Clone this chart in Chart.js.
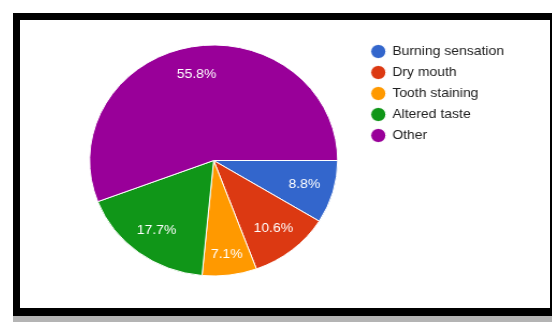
<!DOCTYPE html>
<html>
<head>
<meta charset="utf-8">
<script src="https://cdn.jsdelivr.net/npm/chart.js@4.4.1/dist/chart.umd.min.js"></script>
<style>
  html, body { margin: 0; padding: 0; background: #fff; overflow: hidden; }
  body { width: 552px; height: 322px; position: relative; }
  .frame { position: absolute; left: 13px; top: 13px; width: 539px; height: 303px; background: #000; }
  .shadow { position: absolute; left: 13px; top: 316px; width: 539px; height: 6px; background: #b4b4b4; }
  .paper { position: absolute; left: 20px; top: 20px; width: 530px; height: 288px; background: #fff; }
  .chart-box { position: absolute; left: 20px; top: 20px; width: 493px; height: 288px;
    transform: scaleX(1.074); transform-origin: 0 0; }
</style>
</head>
<body>
<div class="frame"></div>
<div class="shadow"></div>
<div class="paper"></div>
<div class="chart-box"><canvas id="pie"></canvas></div>
<script>
const categories = ["Burning sensation", "Dry mouth", "Tooth staining", "Altered taste", "Other"];
const percents = [8.8, 10.6, 7.1, 17.7, 55.8];
const colors = ["#3366cc", "#dc3912", "#ff9900", "#109618", "#990099"];

// percentage text inside each slice
const sliceLabels = {
  id: "sliceLabels",
  afterDatasetsDraw(chart) {
    const ctx = chart.ctx;
    const meta = chart.getDatasetMeta(0);
    ctx.save();
    ctx.font = "13px Arial, 'Liberation Sans', sans-serif";
    ctx.fillStyle = "#ffffff";
    ctx.textAlign = "center";
    ctx.textBaseline = "middle";
    meta.data.forEach((arc, i) => {
      const p = arc.getProps(["x", "y", "startAngle", "endAngle", "outerRadius"]);
      const mid = (p.startAngle + p.endAngle) / 2;
      // narrow slices near the bottom push the text a bit outward
      const r = p.outerRadius * (0.76 + 0.06 * Math.max(0, Math.sin(mid)) * (percents[i] < 8 ? 1 : 0));
      ctx.fillText(percents[i].toFixed(1) + "%", p.x + Math.cos(mid) * r, p.y + Math.sin(mid) * r);
    });
    ctx.restore();
  }
};

new Chart(document.getElementById("pie"), {
  type: "pie",
  data: {
    labels: categories,
    datasets: [{
      data: percents,
      backgroundColor: colors,
      borderColor: "#ffffff",
      borderWidth: 1,
      hoverOffset: 0
    }]
  },
  options: {
    responsive: true,
    maintainAspectRatio: false,
    animation: false,
    rotation: 90,
    radius: 115.5,
    layout: { padding: { top: 17, bottom: 24, left: 41.5, right: 32.3 } },
    plugins: {
      tooltip: { enabled: false },
      legend: {
        position: "right",
        align: "start",
        labels: {
          usePointStyle: true,
          pointStyle: "circle",
          boxWidth: 13,
          boxHeight: 10,
          padding: 8,
          color: "#222222",
          font: { family: "Arial, 'Liberation Sans', sans-serif", size: 13 }
        }
      }
    }
  },
  plugins: [sliceLabels]
});
</script>
</body>
</html>
